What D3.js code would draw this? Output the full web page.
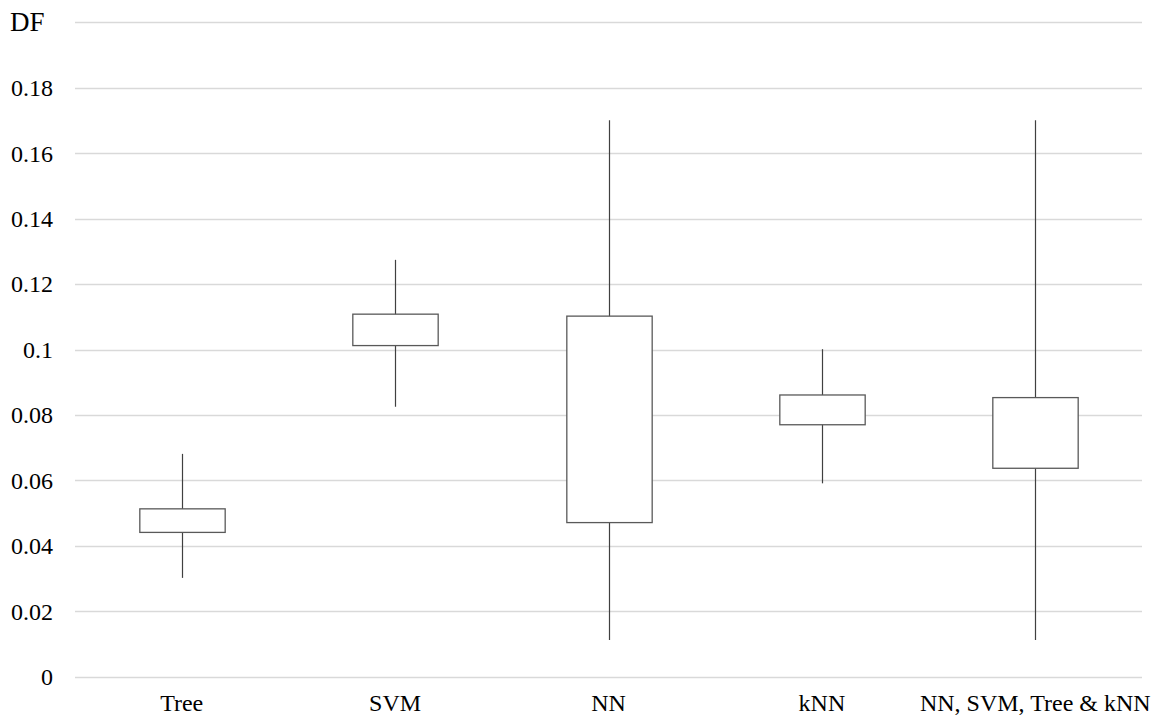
<!DOCTYPE html>
<html><head><meta charset="utf-8">
<script src="https://cdn.jsdelivr.net/npm/d3@7"></script>
<style>body{margin:0;background:#fff}svg{display:block}</style>
</head><body><svg id="c" width="1168" height="715" font-family="'Liberation Serif', 'Times New Roman', Times, serif"></svg>
<script>
const categories = ["Tree", "SVM", "NN", "kNN", "NN, SVM, Tree & kNN"];
const whiskerLow  = [0.0302, 0.0825, 0.0112, 0.0591, 0.0112];
const boxLow      = [0.0441, 0.1012, 0.0471, 0.0770, 0.0637];
const boxHigh     = [0.0513, 0.1108, 0.1102, 0.0861, 0.0853];
const whiskerHigh = [0.0681, 0.1274, 0.1701, 0.1001, 0.1701];
const yTicks = [0, 0.02, 0.04, 0.06, 0.08, 0.1, 0.12, 0.14, 0.16, 0.18];
const yMax = 0.2;
const yTitle = "DF";

const svg = d3.select("#c");
const mLeft = 75, mRight = 1142, mTop = 22.3, mBottom = 676.7;
const x = d3.scaleBand().domain(categories).range([mLeft, mRight]).paddingInner(0).paddingOuter(0);
const y = d3.scaleLinear().domain([0, yMax]).range([mBottom, mTop]);
const fs = 24;

// gridlines
svg.append("g").selectAll("line").data(yTicks.concat([yMax])).join("line")
  .attr("x1", mLeft).attr("x2", mRight)
  .attr("y1", d => Math.round(y(d)) + 0.5).attr("y2", d => Math.round(y(d)) + 0.5)
  .attr("stroke", "#d9d9d9").attr("stroke-width", 1.3);

// y labels
svg.append("g").selectAll("text").data(yTicks).join("text")
  .attr("x", 53).attr("y", d => y(d)).attr("dy", "0.35em")
  .attr("text-anchor", "end").attr("font-size", fs).attr("fill", "#000")
  .text(d => String(+d.toFixed(2)));
svg.append("text").attr("x", 10).attr("y", y(yMax)).attr("dy", "0.33em")
  .attr("font-size", 27).attr("fill", "#000").text(yTitle);

// x labels
svg.append("g").selectAll("text").data(categories).join("text")
  .attr("x", d => x(d) + x.bandwidth() / 2).attr("y", 711)
  .attr("text-anchor", "middle").attr("font-size", fs).attr("fill", "#000").text(d => d);

// boxes
const bw = x.bandwidth() * 0.4;
const g = svg.append("g");
categories.forEach((c, i) => {
  const cx = Math.round(x(c) + x.bandwidth() / 2) + 0.5;
  g.append("line").attr("x1", cx).attr("x2", cx)
    .attr("y1", y(whiskerHigh[i])).attr("y2", y(whiskerLow[i]))
    .attr("stroke", "#404040").attr("stroke-width", 1.2);
  g.append("rect").attr("x", cx - bw / 2).attr("width", bw)
    .attr("y", y(boxHigh[i])).attr("height", y(boxLow[i]) - y(boxHigh[i]))
    .attr("fill", "#fff").attr("stroke", "#595959").attr("stroke-width", 1.3);
});
</script></body></html>
